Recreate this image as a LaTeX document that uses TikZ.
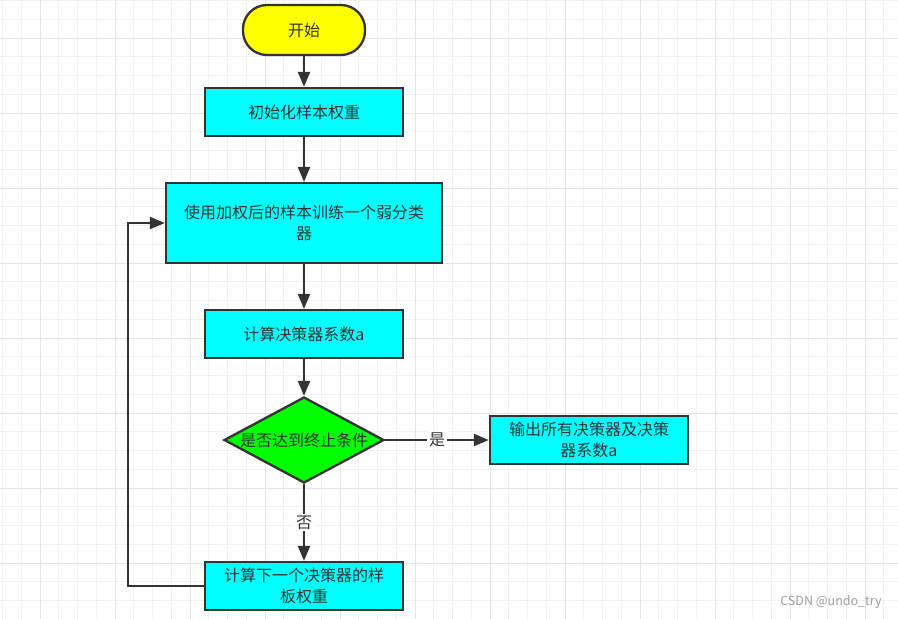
\documentclass[tikz,border=0pt]{standalone}
\usepackage{fontspec}
\newfontfamily\cjk{Noto Sans CJK SC}
\usetikzlibrary{shapes.geometric,arrows.meta}
\definecolor{linegray}{HTML}{333333}
\definecolor{minorgrid}{HTML}{F1F1F1}
\definecolor{majorgrid}{HTML}{E4E4E4}
\definecolor{startyellow}{HTML}{FFFF00}
\definecolor{boxcyan}{HTML}{00FFFF}
\definecolor{testgreen}{HTML}{00FF00}
\begin{document}
\begin{tikzpicture}[x=1pt,y=-1pt,
  every node/.style={font=\cjk\fontsize{16}{21}\selectfont,text=linegray},
  startbox/.style={draw=linegray,line width=2.3pt,fill=startyellow,rounded corners=24pt,
    minimum width=122pt,minimum height=50pt},
  procbox/.style={draw=linegray,line width=2.3pt,fill=boxcyan,align=center,
    minimum width=198pt,minimum height=48pt,inner sep=2pt},
  testbox/.style={diamond,draw=linegray,line width=2.3pt,fill=testgreen,aspect=1.86,
    inner sep=0pt,minimum width=160pt,minimum height=86pt},
  arr/.style={draw=linegray,line width=2.2pt,-{Triangle[length=15pt,width=12pt]}},
  lbl/.style={fill=white,inner sep=2pt}]
\useasboundingbox (0,0) rectangle (898,619);
\fill[white] (0,0) rectangle (898,619);
% grid
\foreach \i in {-2,...,45}
  \draw[minorgrid,line width=1pt] ({40+18.75*\i},0) -- ({40+18.75*\i},619);
\foreach \i in {-2,...,31}
  \draw[minorgrid,line width=1pt] (0,{38+18.75*\i}) -- (898,{38+18.75*\i});
\foreach \gx in {40,115,...,865}
  \draw[majorgrid,line width=1pt] (\gx,0) -- (\gx,619);
\foreach \gy in {38,113,...,563}
  \draw[majorgrid,line width=1pt] (0,\gy) -- (898,\gy);

% nodes
\node[startbox] (start) at (304,30) {开始};
\node[procbox] (init) at (304,112) {初始化样本权重};
\node[procbox,minimum width=276pt,minimum height=80pt] (train) at (304,223)
  {使用加权后的样本训练一个弱分类\\器};
\node[procbox] (coef) at (304,334) {计算决策器系数a};
\node[testbox] (stop) at (304,440) {是否达到终止条件};
\node[procbox] (output) at (589,440) {输出所有决策器及决策\\器系数a};
\node[procbox] (update) at (304,586) {计算下一个决策器的样\\板权重};
\node[font=\cjk\fontsize{12.5}{14}\selectfont,text=gray!75] (mark) at (831,602) {CSDN @undo\_try};
\coordinate (loopx) at (128,0);

% connectors
\draw[arr] (start) -- (init);
\draw[arr] (init) -- (train);
\draw[arr] (train) -- (coef);
\draw[arr] (coef) -- (stop);
\draw[arr] (stop) -- node[lbl] {是} (output);
\draw[arr] (stop) -- node[lbl] {否} (update);
\draw[arr] (update.west) -- (update.west -| loopx) |- (train.west);
\end{tikzpicture}
\end{document}
